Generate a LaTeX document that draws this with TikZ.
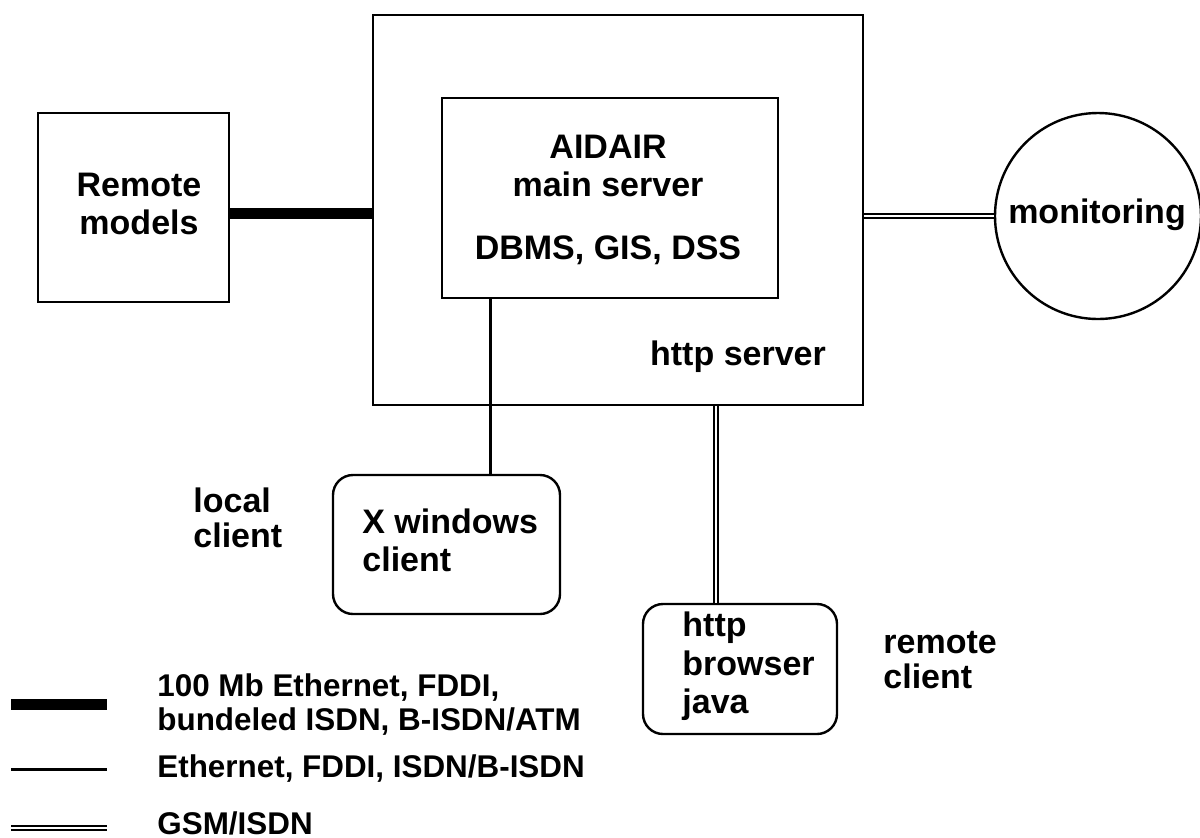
\documentclass[tikz,border=0pt]{standalone}
\usepackage{fontspec}
\setmainfont{Liberation Sans}
\usetikzlibrary{calc}
\begin{document}
\begin{tikzpicture}[x=0.5pt,y=-0.5pt,
  box/.style={draw, line width=1.2pt, inner sep=0pt},
  rbox/.style={box, rounded corners=10pt},
  txt/.style={font=\fontsize{17}{19}\selectfont\bfseries, inner sep=0pt},
  lgd/.style={font=\fontsize{15.7}{17}\selectfont\bfseries, inner sep=0pt, align=left, anchor=west},
  thickln/.style={line width=5.5pt},
  thinln/.style={line width=1.5pt},
  dblln/.style={double=white, line width=0.9pt, double distance=1.3pt}]
\useasboundingbox (0,0) rectangle (1200,837);

% boxes
\node[box, minimum width=245pt, minimum height=195pt] (outer) at (618,210) {};
\node[box, fill=white, minimum width=168pt, minimum height=100pt] (inner) at (610,198) {};
\node[box, minimum width=95.5pt, minimum height=94.5pt] (remote) at (133.5,207.5) {};
\node[draw, circle, line width=1.2pt, minimum size=103pt, inner sep=0pt] (mon) at (1098,216) {};
\node[rbox, minimum width=113.5pt, minimum height=69.5pt] (xwin) at (446.5,544.5) {};
\node[rbox, minimum width=97pt, minimum height=65pt] (browser) at (740,669) {};

% texts
\node[txt, align=center] (aidair) at (608,166) {AIDAIR\\main server};
\node[txt] (dbms) at (608,250) {DBMS, GIS, DSS};
\node[txt] (https) at (738,357) {http server};
\node[txt, align=center] (remtxt) at (139,203.5) {Remote\\models};
\node[txt] (montxt) at (1097,215) {monitoring};
\node[txt, align=left, anchor=west] (xwintxt) at (362,540.5) {X windows\\client};
\node[txt, align=left, anchor=west, font=\fontsize{17}{19.3}\selectfont\bfseries] (brtxt) at (682,666.5) {http\\browser\\java};
\node[txt, align=left, anchor=west, font=\fontsize{17}{17.5}\selectfont\bfseries] (loctxt) at (193,517.5) {local\\client};
\node[txt, align=left, anchor=west, font=\fontsize{17}{17.5}\selectfont\bfseries] (remctxt) at (883,660.5) {remote\\client};

% connectors
\draw[thickln] ($(remote.east)+(0,5.5)$) -- ($(remote.east -| outer.west)+(0,5.5)$);
\draw[thinln] (inner.south -| 490,0) -- (xwin.north -| 490,0);
\draw[dblln] (outer.south -| 716,0) -- (browser.north -| 716,0);
\draw[dblln] (mon.west -| outer.east) -- (mon.west);

% legend
\coordinate (l1a) at (11,704); \coordinate (l1b) at (107,704);
\coordinate (l2a) at (11,769); \coordinate (l2b) at (107,769);
\coordinate (l3a) at (11,828); \coordinate (l3b) at (107,828);
\draw[thickln] (l1a) -- (l1b);
\draw[thinln] (l2a) -- (l2b);
\draw[dblln] (l3a) -- (l3b);
\node[lgd] (lg1) at (157,705) {100 Mb Ethernet, FDDI,\\bundeled ISDN, B-ISDN/ATM};
\node[lgd] (lg2) at (157,769) {Ethernet, FDDI, ISDN/B-ISDN};
\node[lgd] (lg3) at (157,823) {GSM/ISDN};
\end{tikzpicture}
\end{document}
